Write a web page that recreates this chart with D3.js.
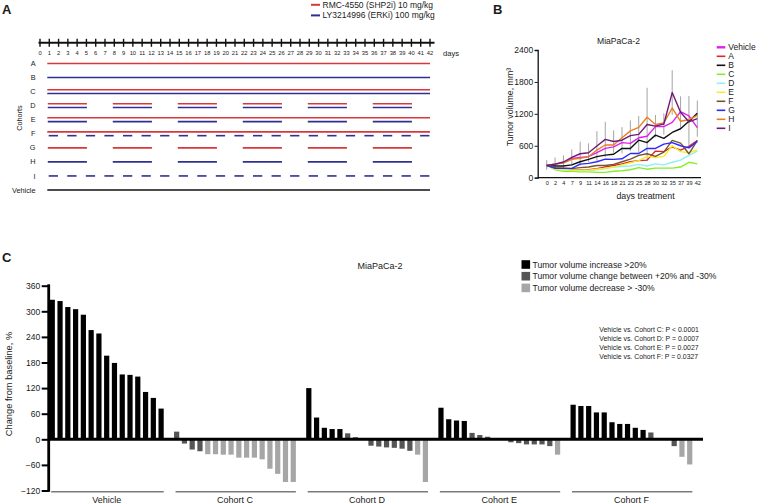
<!DOCTYPE html>
<html><head><meta charset="utf-8">
<script src="https://cdn.jsdelivr.net/npm/d3@7"></script>
<style>
body{margin:0;background:#fff;}
svg text{font-family:"Liberation Sans",Arial,Helvetica,sans-serif;fill:#1a1a1a;}
</style></head><body>
<svg id="fig" width="757" height="504"></svg>
<script>
// ================= DATA =================
// ---- Panel A: dosing schedule ----
const dayTicks = [0,1,2,3,4,5,6,7,8,9,10,11,12,13,14,15,16,17,18,19,20,21,22,23,24,25,26,27,28,29,30,31,32,33,34,35,36,37,38,39,40,41,42];
const cohortRows = ["A","B","C","D","E","F","G","H","I","Vehicle"];
const drugNames = ["RMC-4550 (SHP2i) 10 mg/kg", "LY3214996 (ERKi) 100 mg/kg"];
const dailyBlocks = [[1,42]];
const weeklyBlocks = [[1,5],[8,12],[15,19],[22,26],[29,33],[36,40]];
const altDayDoses = [1,3,5,7,9,11,13,15,17,19,21,23,25,27,29,31,33,35,37,39,41];
// regimen per cohort: drug (0 SHP2i, 1 ERKi, 2 vehicle), schedule, lane (-1 upper, 0 single, 1 lower)
const regimens = [
  {row:"A", drug:0, sched:"daily", lane:0},
  {row:"B", drug:1, sched:"daily", lane:0},
  {row:"C", drug:0, sched:"daily", lane:-1},
  {row:"C", drug:1, sched:"daily", lane:1},
  {row:"D", drug:0, sched:"weekly", lane:-1},
  {row:"D", drug:1, sched:"weekly", lane:1},
  {row:"E", drug:0, sched:"daily", lane:-1},
  {row:"E", drug:1, sched:"weekly", lane:1},
  {row:"F", drug:0, sched:"daily", lane:-1},
  {row:"F", drug:1, sched:"alt", lane:1},
  {row:"G", drug:0, sched:"weekly", lane:0},
  {row:"H", drug:1, sched:"weekly", lane:0},
  {row:"I", drug:1, sched:"alt", lane:0},
  {row:"Vehicle", drug:2, sched:"daily", lane:0}
];

// ---- Panel B: tumour volume growth ----
const timepoints = ["0","2","4","7","9","11","14","16","18","21","23","25","28","30","32","35","37","39","42"];
const groupNames = ["Vehicle","A","B","C","D","E","F","G","H","I"];
const volVehicle = [230,255,280,360,380,395,470,550,580,660,645,750,780,960,960,1040,1240,1160,940];
const volA = [230,175,160,150,145,150,170,200,230,260,300,320,330,500,490,580,520,590,700];
const volB = [230,220,220,240,300,345,395,425,440,550,550,705,660,800,740,850,920,1060,1210];
const volC = [230,150,120,120,110,110,100,100,120,130,150,190,160,180,180,180,200,290,260];
const volD = [230,170,150,140,130,130,150,170,200,210,220,250,220,260,240,290,330,420,500];
const volE = [230,160,150,140,140,140,160,180,200,240,280,320,400,380,400,600,490,470,520];
const volF = [230,190,180,170,190,200,230,230,250,300,350,420,450,400,480,700,650,450,700];
const volG = [230,175,175,175,255,270,300,350,345,355,455,455,550,550,630,660,600,560,680];
const volH = [230,255,280,345,365,395,520,615,615,750,880,945,1135,1000,1030,1310,1060,1090,1170];
const volI = [230,255,295,380,450,470,595,720,680,705,790,815,1000,970,1010,1600,1230,1050,1110];
const errTop = [330,380,420,530,675,645,875,1050,890,950,1075,1160,1690,1180,1210,2020,1530,1535,1450];
const errBottom = [150,150,170,230,225,295,315,390,470,460,505,470,310,760,810,1180,930,565,770];
const volTicks = [0,600,1200,1800,2400];

// ---- Panel C: waterfall ----
const cohortGroups = ["Vehicle","Cohort C","Cohort D","Cohort E","Cohort F"];
const chgVehicle = [327,324,310,305,292,256,248,196,179,152,151,147,111,97,72];
const chgC = [18,-10,-24,-28,-35,-35,-36,-36,-43,-43,-43,-47,-69,-81,-100,-100];
const chgD = [120,51,27,24,24,14,5,0,-15,-17,-19,-20,-22,-27,-36,-100];
const chgE = [74,47,44,43,15,10,6,0,0,-7,-9,-12,-12,-12,-16,-36];
const chgF = [81,78,78,63,63,40,36,36,27,22,16,0,0,-16,-41,-59];
const chgTicks = [-120,-60,0,60,120,180,240,300,360];
const responseLabels = ["Tumor volume increase >20%","Tumor volume change between +20% and -30%","Tumor volume decrease > -30%"];
const responseThresholds = [-30, 20];
const pValues = ["Vehicle vs. Cohort C: P < 0.0001","Vehicle vs. Cohort D: P = 0.0007","Vehicle vs. Cohort E: P = 0.0027","Vehicle vs. Cohort F: P = 0.0327"];

// ================= DRAW =================
const svg = d3.select("#fig");
const FONT = '"Liberation Sans",Arial,Helvetica,sans-serif';

function panelLabel(t,x,y){
  svg.append("text").attr("x",x).attr("y",y).text(t)
    .style("font-size","13px").style("font-weight","bold");
}
panelLabel("A",2,14);
panelLabel("B",493,14);
panelLabel("C",2,262);

// ---------- Panel A ----------
{
  const drugColors = ["#d8383a","#2e3192","#111111"];
  const xA = d3.scaleLinear().domain([0,42]).range([40,430]);
  const yA = d3.scalePoint().domain(cohortRows).range([63.5,190]);
  const g = svg.append("g");
  drugNames.forEach((n,i)=>{
    const yy = 4.8 + i*10.6;
    g.append("line").attr("x1",311).attr("x2",320).attr("y1",yy).attr("y2",yy)
      .attr("stroke",drugColors[i]).attr("stroke-width",2);
    g.append("text").attr("x",322.5).attr("y",yy+3).text(n).style("font-size","8.5px");
  });
  g.append("line").attr("x1",38.5).attr("x2",434.5).attr("y1",42.7).attr("y2",42.7)
    .attr("stroke","#111").attr("stroke-width",2);
  g.selectAll(".dtick").data(dayTicks).join("line")
    .attr("x1",d=>xA(d)).attr("x2",d=>xA(d)).attr("y1",38.8).attr("y2",46.8)
    .attr("stroke","#111").attr("stroke-width",1.4);
  g.selectAll(".dlab").data(dayTicks).join("text")
    .attr("x",d=>xA(d)).attr("y",55.3).attr("text-anchor","middle").text(d=>d)
    .style("font-size","5.8px");
  g.append("text").attr("x",443).attr("y",55.8).text("days").style("font-size","7.6px");
  g.selectAll(".rlab").data(cohortRows).join("text")
    .attr("x",35.5).attr("y",d=>yA(d)+2.6).attr("text-anchor","end").text(d=>d)
    .style("font-size","7.3px");
  g.append("text").attr("transform","translate(21.5,118) rotate(-90)")
    .attr("text-anchor","middle").text("Cohorts").style("font-size","7.3px");
  const segs = [];
  regimens.forEach(r=>{
    const yy = yA(r.row) + r.lane*1.9;
    if(r.sched==="daily") dailyBlocks.forEach(b=>segs.push({x1:xA(b[0])-2,x2:xA(b[1]),y:yy,c:drugColors[r.drug]}));
    if(r.sched==="weekly") weeklyBlocks.forEach(b=>segs.push({x1:xA(b[0])-1.5,x2:xA(b[1])+0.5,y:yy,c:drugColors[r.drug]}));
    if(r.sched==="alt") altDayDoses.forEach(d=>segs.push({x1:xA(d)-0.6,x2:Math.min(xA(d+1)-0.6,xA(42)),y:yy,c:drugColors[r.drug]}));
  });
  g.selectAll(".seg").data(segs).join("line")
    .attr("x1",d=>d.x1).attr("x2",d=>d.x2).attr("y1",d=>d.y).attr("y2",d=>d.y)
    .attr("stroke",d=>d.c).attr("stroke-width",1.6);
}

// ---------- Panel B ----------
{
  const seriesVals = [volVehicle,volA,volB,volC,volD,volE,volF,volG,volH,volI];
  const seriesColors = ["#dd22ee","#e02424","#111111","#86ee2a","#90f0f0","#f2ee30","#7a5230","#2a2aff","#e8801e","#6e1a78"];
  const xB = d3.scalePoint().domain(timepoints).range([546.7,697.3]);
  const yB = d3.scaleLinear().domain([0,2400]).range([177.7,50]);
  const g = svg.append("g");
  g.append("text").attr("x",618.5).attr("y",44).attr("text-anchor","middle").text("MiaPaCa-2")
    .style("font-size","8.6px");
  g.selectAll(".err").data(timepoints).join("line")
    .attr("x1",d=>xB(d)).attr("x2",d=>xB(d))
    .attr("y1",(d,i)=>yB(errBottom[i])).attr("y2",(d,i)=>yB(errTop[i]))
    .attr("stroke","#9a9a9a").attr("stroke-width",0.9);
  const line = d3.line().x((v,i)=>xB(timepoints[i])).y(v=>yB(v));
  seriesVals.forEach((vals,k)=>{
    g.append("path").attr("d",line(vals)).attr("fill","none")
      .attr("stroke",seriesColors[k]).attr("stroke-width",1.4).attr("stroke-linejoin","round");
  });
  const ay = g.append("g").attr("transform","translate(537.7,0)")
    .call(d3.axisLeft(yB).tickValues(volTicks).tickFormat(d3.format("d")).tickSize(3).tickPadding(1.5));
  ay.select(".domain").attr("stroke","#111").attr("stroke-width",1.3);
  ay.selectAll(".tick line").attr("stroke","#111").attr("stroke-width",1);
  ay.selectAll("text").style("font-size","8.5px").style("font-family",FONT).attr("fill","#1a1a1a");
  const ax = g.append("g").attr("transform","translate(0,177.7)")
    .call(d3.axisBottom(xB).tickSize(0).tickPadding(3.5));
  ax.select(".domain").attr("d","M537.7,0H701").attr("stroke","#111").attr("stroke-width",1.3);
  ax.selectAll("text").style("font-size","5.6px").style("font-family",FONT).attr("fill","#1a1a1a");
  g.append("text").attr("x",645.5).attr("y",198.5).attr("text-anchor","middle").text("days treatment")
    .style("font-size","8.8px");
  g.append("text").attr("transform","translate(512.5,107) rotate(-90)").attr("text-anchor","middle")
    .text("Tumor volume, mm³").style("font-size","8.8px");
  groupNames.forEach((n,i)=>{
    const yy = 47.3 + i*9.0;
    g.append("line").attr("x1",716.7).attr("x2",725.3).attr("y1",yy).attr("y2",yy)
      .attr("stroke",seriesColors[i]).attr("stroke-width",i===0?2.4:1.6);
    g.append("text").attr("x",728.3).attr("y",yy+3).text(n).style("font-size","8.5px");
  });
}

// ---------- Panel C ----------
{
  const groupVals = [chgVehicle,chgC,chgD,chgE,chgF];
  const bars = [];
  const groupSpans = [];
  let slot = 0;
  groupVals.forEach((vals,gi)=>{
    const start = slot;
    vals.forEach(v=>{ bars.push({slot:slot, v:v}); slot++; });
    groupSpans.push({name:cohortGroups[gi], first:start, last:slot-1});
    slot++;
  });
  const nSlots = slot - 1;
  const xC = d3.scaleBand().domain(d3.range(nSlots)).range([48.5,693.5]).paddingInner(0.33).paddingOuter(0.15);
  const yC = d3.scaleLinear().domain([-120,360]).range([490.5,285.7]);
  const color = d3.scaleThreshold().domain(responseThresholds).range(["#a6a6a6","#555555","#000000"]);
  const g = svg.append("g");
  g.append("text").attr("x",380).attr("y",269).attr("text-anchor","middle").text("MiaPaCa-2")
    .style("font-size","9px");
  g.selectAll(".bar").data(bars).join("rect")
    .attr("x",d=>xC(d.slot)).attr("width",xC.bandwidth())
    .attr("y",d=>Math.min(yC(d.v),yC(0))).attr("height",d=>Math.abs(yC(d.v)-yC(0)))
    .attr("fill",d=>color(d.v));
  g.append("line").attr("x1",48).attr("x2",703).attr("y1",yC(0)).attr("y2",yC(0))
    .attr("stroke","#000").attr("stroke-width",3);
  const ay = g.append("g").attr("transform","translate(48.7,0)")
    .call(d3.axisLeft(yC).tickValues(chgTicks).tickSize(7).tickPadding(1.5));
  ay.select(".domain").attr("d","M0,284.3V491.8").attr("stroke","#000").attr("stroke-width",2.8);
  ay.selectAll(".tick line").attr("stroke","#000").attr("stroke-width",2);
  ay.selectAll("text").style("font-size","8.5px").style("font-family",FONT).attr("fill","#1a1a1a");
  g.append("text").attr("transform","translate(11.5,384) rotate(-90)").attr("text-anchor","middle")
    .text("Change from baseline, %").style("font-size","9.3px");
  g.selectAll(".uline").data(groupSpans).join("line")
    .attr("x1",d=>xC(d.first)+1.5).attr("x2",d=>xC(d.last)+xC.bandwidth())
    .attr("y1",491.7).attr("y2",491.7).attr("stroke","#7a7a7a").attr("stroke-width",1.4);
  g.selectAll(".glab").data(groupSpans).join("text")
    .attr("x",d=>(xC(d.first)+xC(d.last)+xC.bandwidth())/2).attr("y",503.3)
    .attr("text-anchor","middle").text(d=>d.name).style("font-size","9px");
  const legColors = ["#000000","#555555","#a6a6a6"];
  responseLabels.forEach((t,i)=>{
    const yy = 264.5 + i*11.7;
    g.append("rect").attr("x",521.5).attr("y",yy-4.3).attr("width",8.6).attr("height",8.6).attr("fill",legColors[i]);
    g.append("text").attr("x",532.5).attr("y",yy+3.1).text(t).style("font-size","8.6px");
  });
  pValues.forEach((t,i)=>{
    g.append("text").attr("x",599.3).attr("y",332 + i*9.1).text(t).style("font-size","6.9px");
  });
}
</script>
</body></html>
